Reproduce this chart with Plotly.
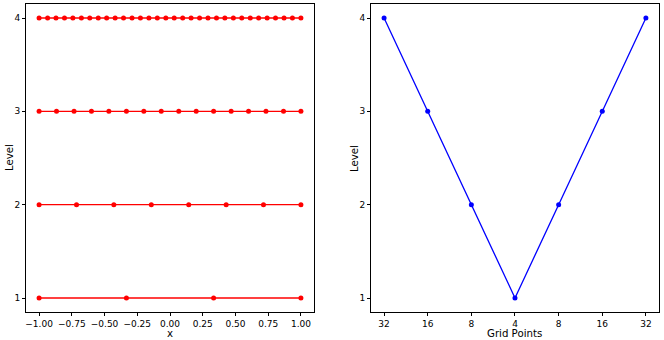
import plotly.graph_objects as go
from plotly.subplots import make_subplots

# Left panel: grid points on each level
level_1_x = [-1.0, -0.333, 0.333, 1.0]
level_2_x = [-1.0, -0.714, -0.429, -0.143, 0.143, 0.429, 0.714, 1.0]
level_3_x = [-1.0, -0.867, -0.733, -0.6, -0.467, -0.333, -0.2, -0.067,
             0.067, 0.2, 0.333, 0.467, 0.6, 0.733, 0.867, 1.0]
level_4_x = [-1.0, -0.935, -0.871, -0.806, -0.742, -0.677, -0.613, -0.548,
             -0.484, -0.419, -0.355, -0.29, -0.226, -0.161, -0.097, -0.032,
             0.032, 0.097, 0.161, 0.226, 0.29, 0.355, 0.419, 0.484,
             0.548, 0.613, 0.677, 0.742, 0.806, 0.871, 0.935, 1.0]
levels = [1, 2, 3, 4]

# Right panel: V-cycle
grid_points = ["32", "16", "8", "4", "8", "16", "32"]
cycle_levels = [4, 3, 2, 1, 2, 3, 4]

fig = make_subplots(rows=1, cols=2, horizontal_spacing=0.09)

for lvl, xs in zip(levels, [level_1_x, level_2_x, level_3_x, level_4_x]):
    fig.add_trace(go.Scatter(x=xs, y=[lvl] * len(xs), mode="lines+markers",
                             line={"color": "red", "width": 1.3},
                             marker={"color": "red", "size": 5}), 1, 1)

fig.add_trace(go.Scatter(x=list(range(len(grid_points))), y=cycle_levels, mode="lines+markers",
                         line={"color": "blue", "width": 1.3},
                         marker={"color": "blue", "size": 5}), 1, 2)

axis_style = dict(showgrid=False, zeroline=False, showline=True, linecolor="black", linewidth=1,
                  mirror=True, ticks="outside", ticklen=3, tickcolor="black", automargin=False,
                  tickangle=0, tickfont={"size": 9, "color": "black"})

fig.update_xaxes(**axis_style)
fig.update_yaxes(**axis_style)
fig.update_xaxes(range=[-1.1, 1.1], tickvals=[-1, -0.75, -0.5, -0.25, 0, 0.25, 0.5, 0.75, 1],
                 tickformat=".2f", domain=[0, 0.455], row=1, col=1)
fig.update_xaxes(range=[-0.3, 6.3], tickvals=list(range(len(grid_points))), ticktext=grid_points,
                 domain=[0.545, 1.0], row=1, col=2)
fig.update_yaxes(range=[0.85, 4.15], tickvals=levels)

# axis titles as annotations so they sit where the reference has them
title_font = {"size": 10.2, "color": "black"}
for text, x in [("x", 0.2275), ("Grid Points", 0.7725)]:
    fig.add_annotation(text=text, x=x, y=0, xref="paper", yref="paper", xanchor="center",
                       yanchor="middle", yshift=-21.5, borderpad=0, showarrow=False, font=title_font)
for x in [0, 0.545]:
    fig.add_annotation(text="Level", x=x, y=0.5, xref="paper", yref="paper", xanchor="center",
                       yanchor="middle", xshift=-17, textangle=-90, showarrow=False, font=title_font)

fig.update_layout(width=664, height=340, showlegend=False, plot_bgcolor="white", paper_bgcolor="white",
                  font={"family": "DejaVu Sans", "color": "black"},
                  margin={"l": 26, "r": 5, "t": 4, "b": 28})
fig.write_html("out.html", config={"displayModeBar": False},
               post_script="document.body.style.margin = '0';")
